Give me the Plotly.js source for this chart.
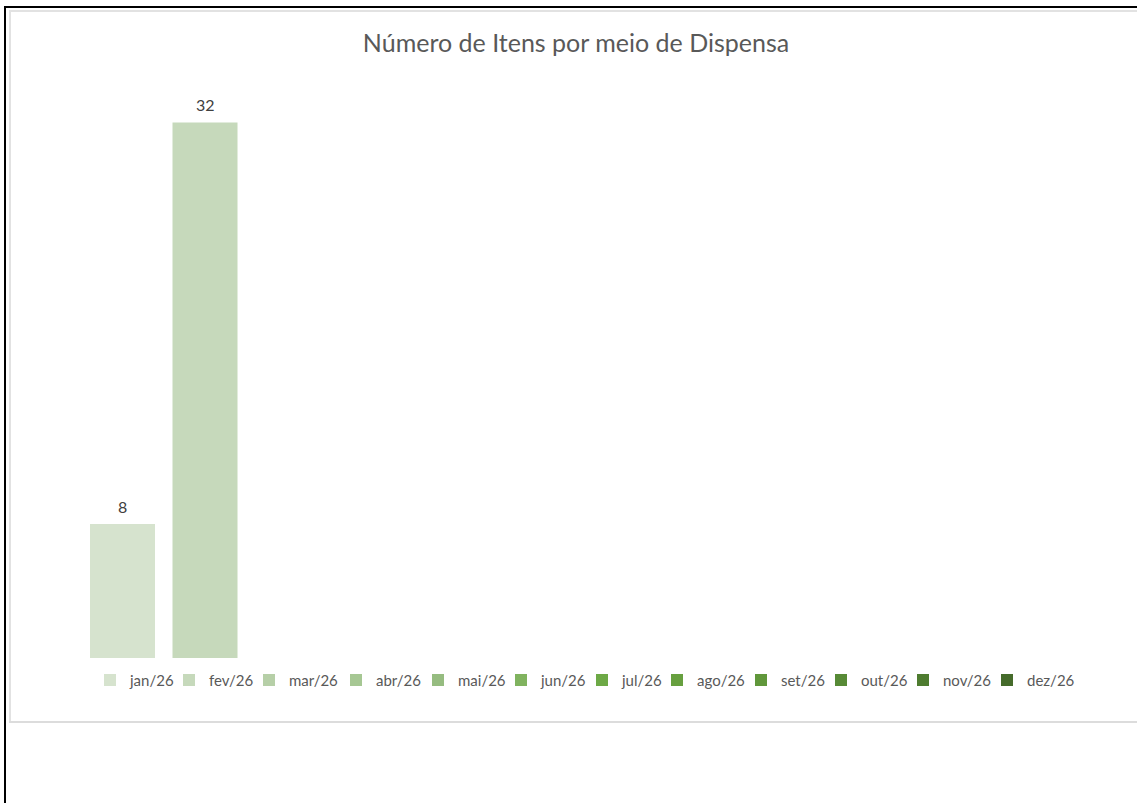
<!DOCTYPE html>
<html>
<head>
<meta charset="utf-8">
<script src="https://cdn.plot.ly/plotly-3.0.1.min.js"></script>
<style>
  html, body { margin: 0; padding: 0; background: #ffffff; }
  #wrap { position: relative; width: 1137px; height: 803px; overflow: hidden; }
  #chart { position: absolute; left: 0; top: 0; width: 1137px; height: 803px; }
  .ln { position: absolute; pointer-events: none; }
</style>
</head>
<body>
<div id="wrap">
  <div id="chart"></div>
  <div class="ln" style="left:4px;top:6px;width:2px;height:797px;background:#000;"></div>
  <div class="ln" style="left:4px;top:6px;width:1133px;height:2px;background:#000;"></div>
  <div class="ln" style="left:9px;top:10px;width:2px;height:712px;background:#e2e2e2;"></div>
  <div class="ln" style="left:9px;top:10px;width:1128px;height:2px;background:#e2e2e2;"></div>
  <div class="ln" style="left:9px;top:721px;width:1128px;height:2px;background:#dcdcdc;"></div>
</div>
<script>
const months = ["jan/26","fev/26","mar/26","abr/26","mai/26","jun/26","jul/26","ago/26","set/26","out/26","nov/26","dez/26"];
const values = [8, 32, null, null, null, null, null, null, null, null, null, null];
const colors = ["#d6e3ce","#c6d9bb","#b6cfa7","#a6c793","#96bc80","#80b35f","#6da946","#67a03f","#60973b","#578a36","#4e7c30","#456b2b"];
const chartTitle = "Número de Itens por meio de Dispensa";

// layout: left pixel of each legend swatch (Excel-style variable spacing)
const legendSwatchLeft = [104, 183, 263, 350, 432, 515, 596, 671, 755, 835, 917, 1001];

const legendId = i => (i === 0 ? "legend" : "legend" + (i + 1));

const traces = months.map((m, i) => ({
  type: "bar",
  name: m,
  x: [m],
  y: [values[i]],
  marker: { color: colors[i] },
  hoverinfo: "x+y",
  showlegend: true,
  legend: legendId(i)
}));

const annotations = [];
months.forEach((m, i) => {
  if (values[i] !== null) {
    annotations.push({
      x: m, y: values[i], xref: "x", yref: "y",
      text: String(values[i]), showarrow: false,
      yanchor: "bottom", yshift: 6,
      font: { family: "Lato, sans-serif", size: 16, color: "#404040" }
    });
  }
});

// plot area: x 40..1111 px, category pitch 82.5 px
const plotL = 40, plotR = 26;
const plotW = 1137 - plotL - plotR;
const pitch = 82.5;
const xStart = -(122.5 - plotL) / pitch;
const xEnd = xStart + plotW / pitch;

const layout = {
  width: 1137, height: 803,
  margin: { l: plotL, r: plotR, t: 89, b: 145, autoexpand: false },
  paper_bgcolor: "rgba(0,0,0,0)",
  plot_bgcolor: "rgba(0,0,0,0)",
  barmode: "overlay",
  bargap: 0.212,
  title: {
    text: chartTitle,
    font: { family: "Lato, sans-serif", size: 25, color: "#595959" },
    xref: "container", x: 576/1137, xanchor: "center",
    yref: "container", y: 1 - 43/803, yanchor: "middle"
  },
  xaxis: {
    type: "category", categoryorder: "array", categoryarray: months,
    range: [xStart, xEnd], fixedrange: true,
    showticklabels: false, showgrid: false, zeroline: false, showline: false, ticks: ""
  },
  yaxis: {
    range: [0, 34], fixedrange: true,
    showticklabels: false, showgrid: false, zeroline: false, showline: false, ticks: ""
  },
  showlegend: true,
  annotations: annotations
};

months.forEach((m, i) => {
  layout[legendId(i)] = {
    orientation: "h",
    x: (legendSwatchLeft[i] - 14 - plotL) / plotW, xanchor: "left",
    y: -0.039, yanchor: "middle",
    font: { family: "Lato, sans-serif", size: 15, color: "#595959" },
    itemwidth: 30,
    bgcolor: "rgba(0,0,0,0)"
  };
});

Plotly.newPlot("chart", traces, layout, { displayModeBar: false, staticPlot: true });
</script>
</body>
</html>
